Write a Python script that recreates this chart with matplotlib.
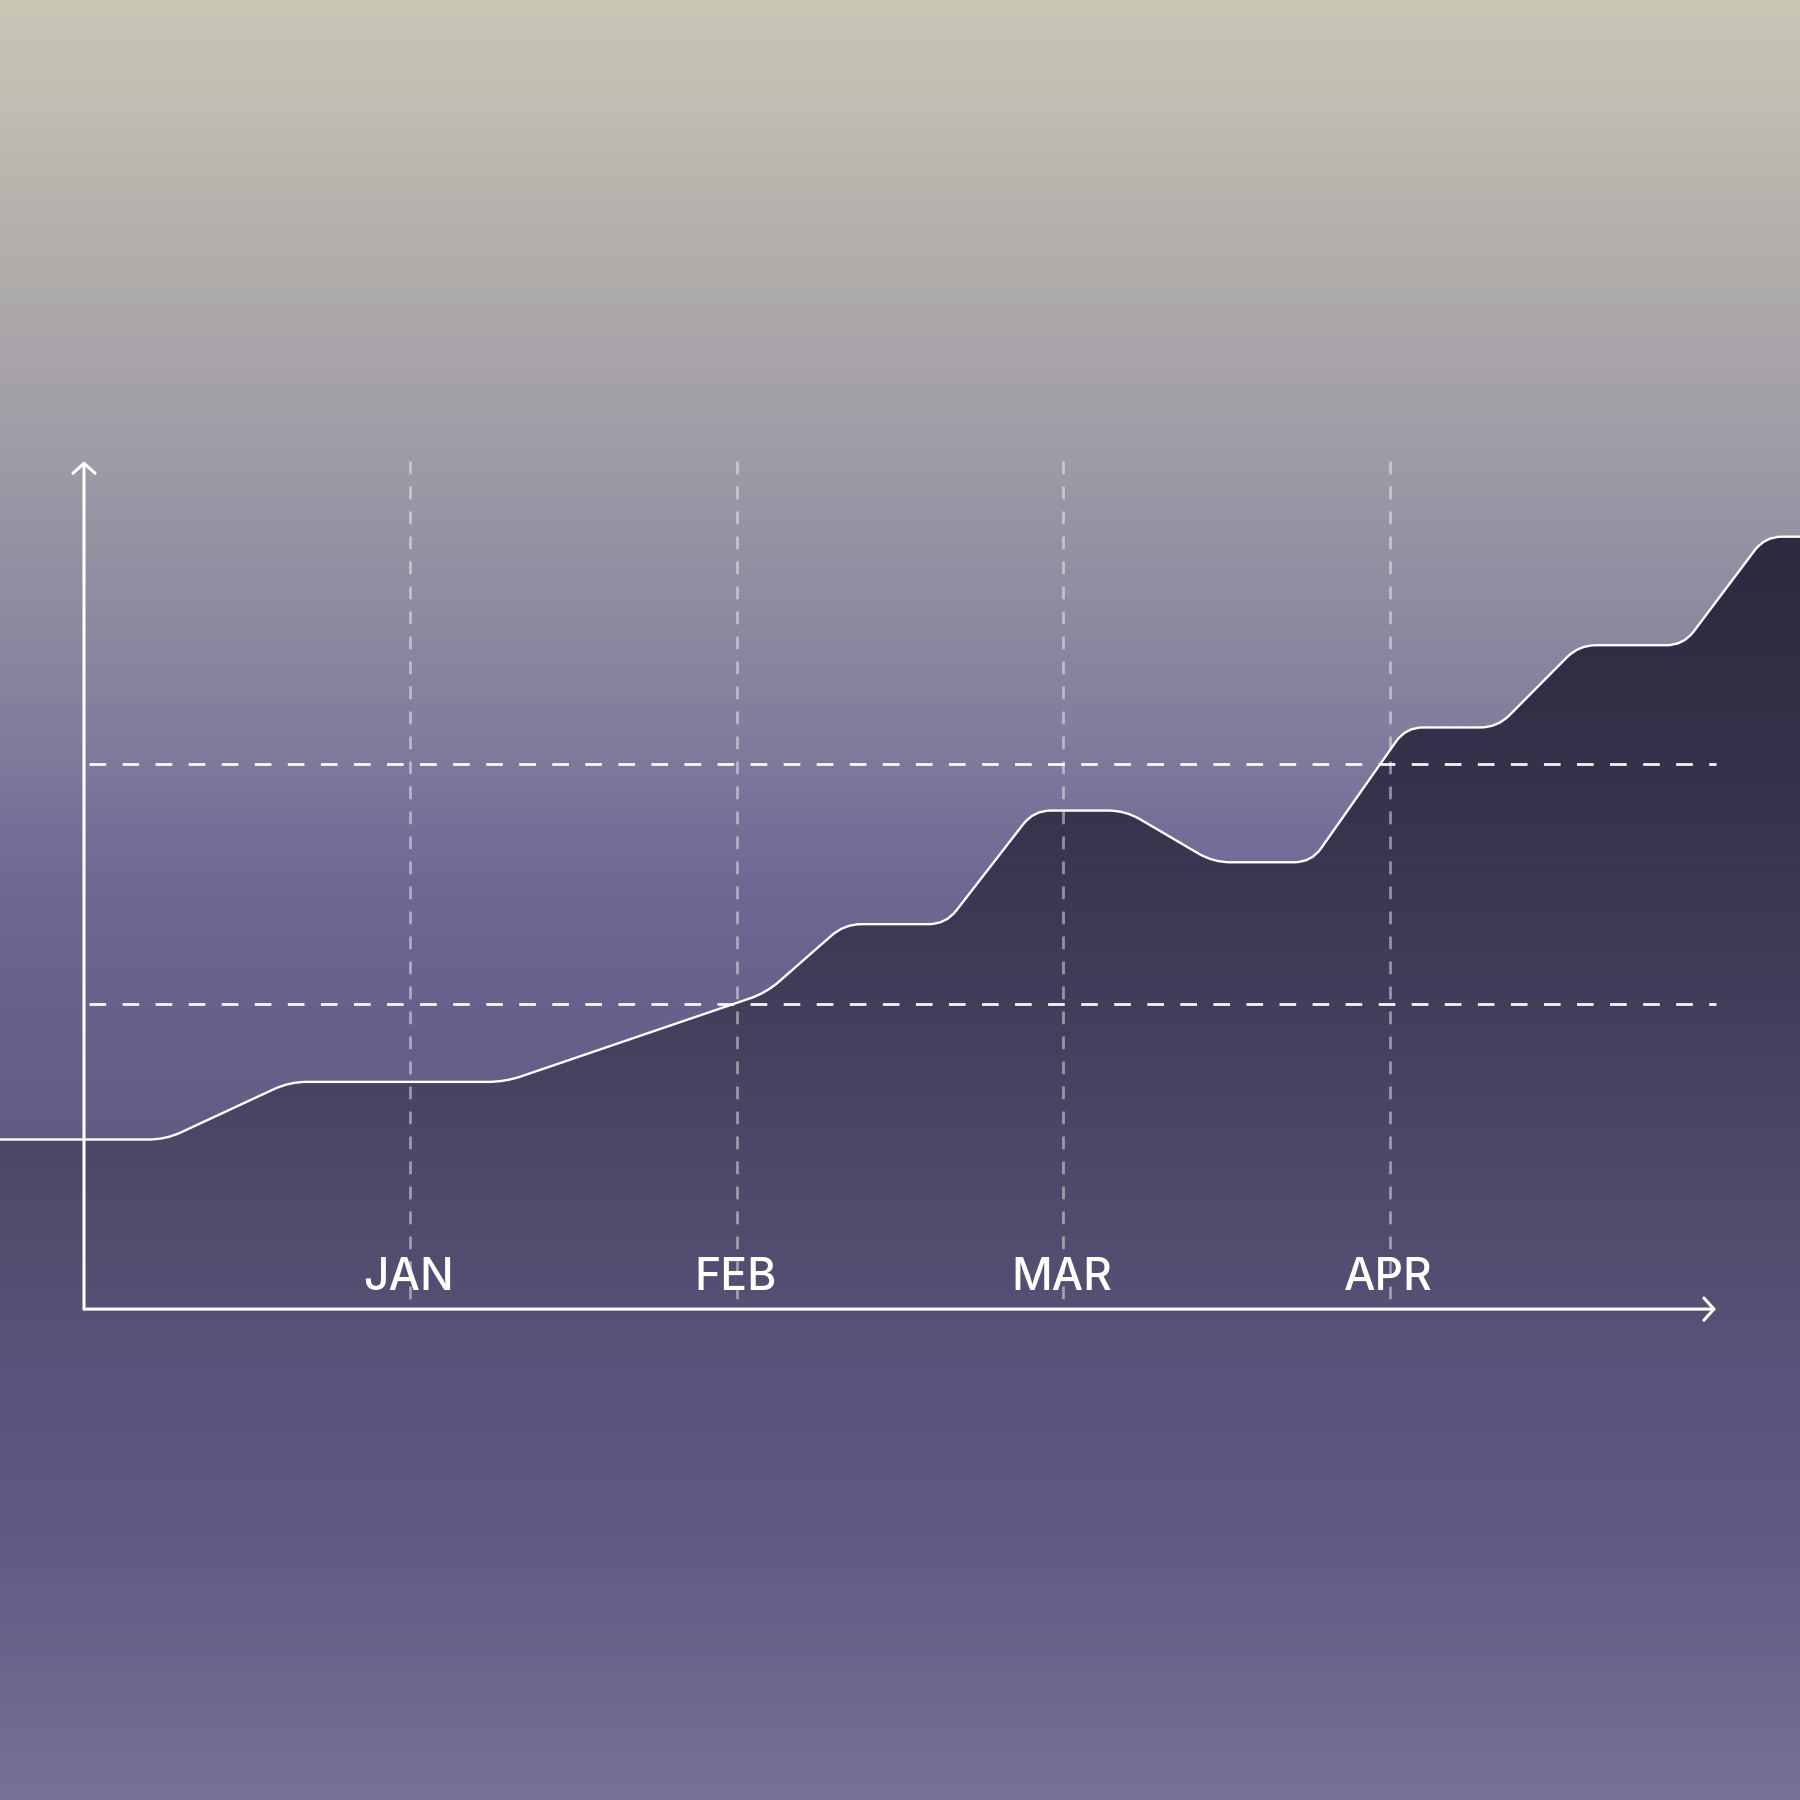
import numpy as np
import matplotlib
import matplotlib.pyplot as plt
from matplotlib.path import Path
from matplotlib.patches import PathPatch
from matplotlib.colors import LinearSegmentedColormap

matplotlib.use('agg')

# data: x in months (0 = y axis, 1 = JAN ...), y on a 0-100 scale
months = [1, 2, 3, 4]
month_labels = ['JAN', 'FEB', 'MAR', 'APR']
curve_x = [-0.26, 0.25, 0.63, 1.29, 2.09, 2.33, 2.64, 2.91, 3.19, 3.46, 3.76, 4.05, 4.33, 4.58, 4.90, 5.15, 5.26]
curve_y = [20.0, 20.0, 26.8, 26.8, 37.3, 45.4, 45.4, 58.8, 58.8, 52.7, 52.7, 68.6, 68.6, 78.3, 78.3, 91.1, 91.1]
ref_levels = [36.0, 64.3]

x_lim = (-0.2574, 5.2574)
y_lim = (-57.9, 154.4)

# colour stops, top -> bottom (fraction of figure height)
bg_stops = [(0.0, '#c9c6b6'), (0.07, '#bebbb1'), (0.14, '#b1aeab'), (0.22, '#a4a0a8'),
            (0.29, '#9894a4'), (0.36, '#8b869f'), (0.42, '#7f7a9c'), (0.47, '#736d97'),
            (0.50, '#6d6791'), (0.56, '#67628b'), (0.64, '#615c84'), (0.75, '#5d5880'),
            (0.88, '#666188'), (1.0, '#767196')]
fill_stops = [(0.0, '#2b273e'), (0.30, '#2d2940'), (0.38, '#322e46'), (0.45, '#38334d'),
              (0.52, '#3e3955'), (0.58, '#45405e'), (0.64, '#4d4868'), (0.70, '#534e70'),
              (0.76, '#58537a'), (0.85, '#5f5a81'), (0.90, '#676189'), (1.0, '#767197')]


def rounded_path(ax, xs, ys, d=17):
    # round the corners of a polyline in pixel space, return path in data coords
    pts = ax.transData.transform(np.column_stack([xs, ys]))
    verts = [pts[0]]
    codes = [Path.MOVETO]
    for i in range(1, len(pts) - 1):
        p0, p1, p2 = pts[i - 1], pts[i], pts[i + 1]
        v1 = p0 - p1
        v2 = p2 - p1
        l1 = np.hypot(*v1)
        l2 = np.hypot(*v2)
        r = min(d, l1 / 2, l2 / 2)
        a = p1 + v1 / l1 * r
        b = p1 + v2 / l2 * r
        verts += [a, p1, b]
        codes += [Path.LINETO, Path.CURVE3, Path.CURVE3]
    verts.append(pts[-1])
    codes.append(Path.LINETO)
    verts = ax.transData.inverted().transform(np.array(verts))
    return verts, codes


fig = plt.figure(figsize=(18, 18), dpi=100)
ax = fig.add_axes([0, 0, 1, 1])
ax.set_xlim(*x_lim)
ax.set_ylim(*y_lim)
ax.axis('off')

extent = [x_lim[0], x_lim[1], y_lim[0], y_lim[1]]
grad = np.linspace(0, 1, 600).reshape(-1, 1)
bg_cmap = LinearSegmentedColormap.from_list('bg', bg_stops)
ax.imshow(grad, cmap=bg_cmap, extent=extent, aspect='auto', zorder=0, interpolation='bicubic')

# filled area under the curve
verts, codes = rounded_path(ax, curve_x, curve_y)
fill_verts = list(verts) + [[curve_x[-1], y_lim[0]], [curve_x[0], y_lim[0]], [curve_x[0], curve_y[0]]]
fill_codes = list(codes) + [Path.LINETO, Path.LINETO, Path.CLOSEPOLY]
fill_patch = PathPatch(Path(fill_verts, fill_codes), facecolor='none', edgecolor='none', transform=ax.transData)
ax.add_patch(fill_patch)
fill_cmap = LinearSegmentedColormap.from_list('fill', fill_stops)
im = ax.imshow(grad, cmap=fill_cmap, extent=extent, aspect='auto', zorder=1, interpolation='bicubic')
im.set_clip_path(fill_patch)

# grid
ax.vlines(months, 100, 0, colors=(1, 1, 1, 0.45), lw=2.0, linestyles=(0, (4.6, 4.4)), zorder=2)
ax.hlines(ref_levels, 0.015, 5.0, colors=(1, 1, 1, 0.95), lw=2.0, linestyles=(0, (6.0, 5.9)), zorder=2)

# curve
ax.add_patch(PathPatch(Path(verts, codes), facecolor='none', edgecolor='white', lw=1.7, zorder=3,
                       capstyle='round', joinstyle='round'))

# axes with arrow heads
arrow = dict(arrowstyle='->,head_length=0.36,head_width=0.4', color='white', lw=2.2,
             shrinkA=0, shrinkB=0, mutation_scale=20)
ax.annotate('', xy=(5.0, 0), xytext=(0, 0), arrowprops=arrow, zorder=4)
ax.annotate('', xy=(0, 100), xytext=(0, 0), arrowprops=arrow, zorder=4)

for m, lab in zip(months, month_labels):
    ax.text(m - 0.005, 2.2, lab, ha='center', va='baseline', color='white',
            fontsize=32, fontweight='medium', family=['Inter', 'DejaVu Sans'], zorder=4)

plt.savefig('out.png', dpi=100)
